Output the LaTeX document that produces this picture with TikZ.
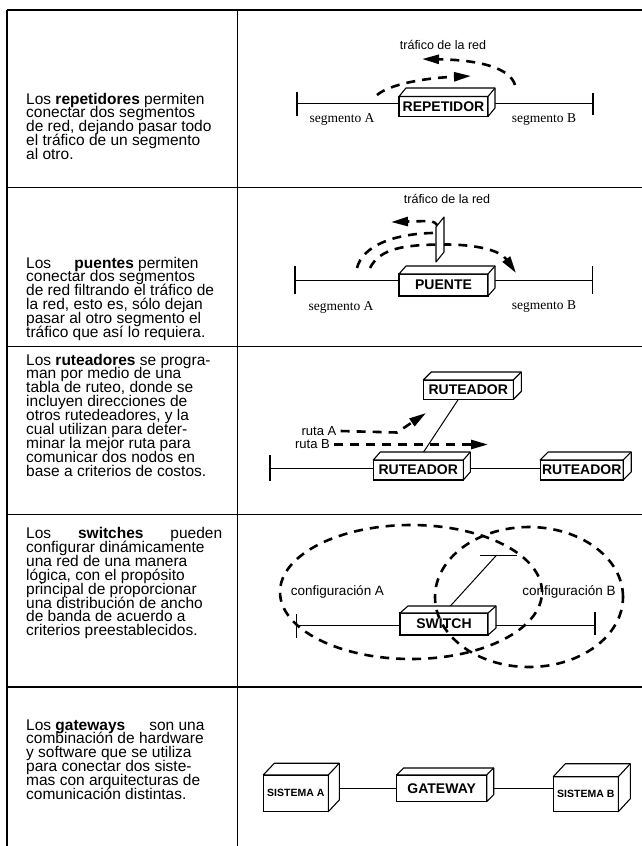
\documentclass[tikz,border=0pt]{standalone}
\usepackage{fontspec}
\setmainfont{Liberation Sans}
\newfontfamily\seriffont{Liberation Serif}
\usetikzlibrary{arrows.meta}
\pgfdeclarelayer{back}
\pgfsetlayers{back,main}

\tikzset{
  rule/.style={line width=1.3pt},
  para/.style={inner sep=0pt, anchor=base west},
  boxfront/.style={draw, fill=white, line width=1.1pt, inner sep=0pt, outer sep=0pt,
    font=\fontsize{14}{15}\selectfont\bfseries},
  boxface/.style={draw, fill=white, line width=1.1pt, line join=round},
  boxedge/.style={line width=1.1pt},
  wire/.style={line width=1pt},
  tick/.style={line width=1.3pt},
  traffic/.style={line width=2.6pt, dash pattern=on 9pt off 7pt},
  head/.style={-{Triangle[length=17pt,width=9pt]}},
  caption/.style={inner sep=0pt, font=\fontsize{12.5}{14}\selectfont},
  seglabel/.style={inner sep=0pt, font=\seriffont\fontsize{13.5}{15}\selectfont},
}

% description text of one row
\newcommand\paratext[1]{\parbox[t]{205pt}{\fontsize{15.5}{13.9}\selectfont
  \lineskiplimit=-20pt\raggedright #1}}

% 3D network device: name, centre, width, height, depth dx, depth dy, label
\newcommand\netbox[7]{%
  \node[boxfront, minimum width=#3pt, minimum height=#4pt] (#1) at (#2) {#7};
  \filldraw[boxface] (#1.north west) -- ++(#5,-#6) -- ++(#3,0) -- ++(0,#4)
    -- (#1.south east) -- (#1.north east) -- cycle;
  \draw[boxedge] (#1.north east) -- ++(#5,-#6);
}

\begin{document}
\begin{tikzpicture}[x=1pt,y=-1pt]
\useasboundingbox (0,0) rectangle (642,846);

% ---- table frame ----
\foreach \y in {10,187.5,346.5,514.5,687}
  \draw[rule] (7,\y) -- (642,\y);
\draw[rule] (7,10) -- (7,846);
\draw[rule] (237.5,10) -- (237.5,846);

% ---- row 1: repetidores ----
\node[para] (p1) at (26,104) {\paratext{Los \textbf{repetidores} permiten\\
  conectar dos segmentos\\de red, dejando pasar todo\\el tráfico de un segmento\\al otro.}};
\netbox{rep}{443.5,106.5}{89}{20}{7}{8.5}{REPETIDOR}
\coordinate (r1a) at (297,103.5);
\coordinate (r1b) at (593,103.5);
\begin{pgfonlayer}{back}
  \draw[wire] (r1a) -- (r1a -| rep.west);
  \draw[wire] (r1b -| rep.east) -- (r1b);
\end{pgfonlayer}
\draw[tick] ([yshift=12pt]r1a) -- ([yshift=-12pt]r1a);
\draw[tick] ([yshift=11pt]r1b) -- ([yshift=-11pt]r1b);
\node[caption] (traf1) at (443,45) {tráfico de la red};
\node[seglabel] (sa1) at (342,119.5) {segmento A};
\node[seglabel] (sb1) at (544,119.5) {segmento B};
\coordinate (t1s) at (377,95);   \coordinate (t1e) at (471,76);
\coordinate (t2s) at (515,85);   \coordinate (t2e) at (422,59);
\draw[traffic, head] (t1s) .. controls (390,84) and (425,78) .. (t1e);
\draw[traffic, head] (t2s) .. controls (510,68) and (480,60) .. (t2e);

% ---- row 2: puentes ----
\node[para] (p2) at (26,268) {\paratext{Los\hspace{19pt} \textbf{puentes} permiten\\
  conectar dos segmentos\\de red filtrando el tráfico de\\la red, esto es, sólo dejan\\
  pasar al otro segmento el\\tráfico que así lo requiera.}};
\netbox{pte}{443.5,285}{89}{22}{7}{8}{PUENTE}
\coordinate (r2a) at (295,280);
\coordinate (r2b) at (592.7,280);
\begin{pgfonlayer}{back}
  \draw[wire] (r2a) -- (r2a -| pte.west);
  \draw[wire] (r2b -| pte.east) -- (r2b);
\end{pgfonlayer}
\draw[tick] ([yshift=14pt]r2a) -- ([yshift=-14pt]r2a);
\draw[tick] ([yshift=14pt]r2b) -- ([yshift=-14pt]r2b);
\node[caption] (traf2) at (447,198.5) {tráfico de la red};
\node[seglabel] (sa2) at (341,307) {segmento A};
\node[seglabel] (sb2) at (544,307) {segmento B};
\coordinate (f1s) at (357,268);  \coordinate (f1e) at (391,222);
\coordinate (f2s) at (370,268);  \coordinate (f2e) at (516,273);
\draw[traffic, head] (f1s) .. controls (363,245) and (395,234) .. (432,233)
  .. controls (440,232) and (440,221) .. (428,221) -- (f1e);
\draw[traffic, head] (f2s) .. controls (380,248) and (405,245) .. (440,244.5)
  .. controls (475,244) and (500,250) .. (f2e);
% filter plate of the bridge
\filldraw[boxface] (436,262) -- (436,227) -- (444,217) -- (444,252) -- cycle;

% ---- row 3: ruteadores ----
\node[para] (p3) at (26,365) {\paratext{Los \textbf{ruteadores} se progra-\\
  man por medio de una\\tabla de ruteo, donde se\\incluyen direcciones de\\
  otros rutedeadores, y la\\cual utilizan para deter-\\minar la mejor ruta para\\
  comunicar dos nodos en\\base a criterios de costos.}};
\netbox{ru1}{468.3,389.7}{90}{19.5}{8}{8}{RUTEADOR}
\netbox{ru2}{418.3,470}{90}{20}{7}{8}{RUTEADOR}
\netbox{ru3}{581.7,470}{83}{20}{8}{8}{RUTEADOR}
\coordinate (r3a) at (270,468.3);
\begin{pgfonlayer}{back}
  \draw[wire] (r3a) -- (r3a -| ru2.west);
  \draw[wire] (r3a -| ru2.east) -- (r3a -| ru3.west);
  \draw[wire] (ru2.north) -- ([xshift=-10pt]ru1.south);
\end{pgfonlayer}
\draw[tick] ([yshift=13pt]r3a) -- ([yshift=-13pt]r3a);
\node[caption, font=\fontsize{13}{14}\selectfont] (rA) at (319,431) {ruta A};
\node[caption, font=\fontsize{13}{14}\selectfont] (rB) at (312.5,444.5) {ruta B};
\coordinate (rAk) at (397,432.5);
\coordinate (rAe) at (426,413);
\coordinate (rBe) at (488,444.5);
\draw[traffic, head] ([xshift=4pt]rA.east) -- (rAk) -- (rAe);
\draw[traffic, head] ([xshift=4pt]rB.east) -- (rBe);

% ---- row 4: switches ----
\node[para] (p4) at (26,538.5) {\paratext{\makebox[196pt][s]{Los \textbf{switches} pueden}\\
  configurar dinámicamente\\una red de una manera\\lógica, con el propósito\\
  principal de proporcionar\\una distribución de ancho\\de banda de acuerdo a\\
  criterios preestablecidos.}};
\netbox{sw}{444,624}{88}{22}{8}{7}{SWITCH}
\coordinate (r4a) at (296.7,625);
\coordinate (r4b) at (595,625);
\coordinate (r4c) at (496.7,555);
\coordinate (r4l) at (480,555);
\coordinate (r4r) at (516.7,555);
\begin{pgfonlayer}{back}
  \draw[wire] (r4a) -- (r4a -| sw.west);
  \draw[wire] (r4b -| sw.east) -- (r4b);
  \draw[wire] (sw.north) -- (r4c);
\end{pgfonlayer}
\draw[wire] (r4l) -- (r4r);
\draw[tick] ([yshift=11pt]r4a) -- ([yshift=-13pt]r4a);
\draw[tick] ([yshift=13pt]r4b) -- ([yshift=-10pt]r4b);
\node[caption, font=\fontsize{13.5}{15}\selectfont] (cA) at (337.5,592) {configuración A};
\node[caption, font=\fontsize{13.5}{15}\selectfont] (cB) at (569,592) {configuración B};
\draw[traffic] (411,592) ellipse [x radius=131pt, y radius=67pt];
\draw[traffic] (529,597) ellipse [x radius=94pt, y radius=70pt];

% ---- row 5: gateways ----
\node[para] (p5) at (26,730) {\paratext{Los \textbf{gateways}\hspace{24pt}son una\\
  combinación de hardware\\y software que se utiliza\\para conectar dos siste-\\
  mas con arquitecturas de\\comunicación distintas.}};
\netbox{sa}{295.8,793.3}{65}{36.7}{11}{11.7}{\fontsize{10.5}{12}\selectfont SISTEMA A}
\netbox{gw}{441.7,788.3}{90}{26.7}{7}{7}{GATEWAY}
\netbox{sb}{585.8,794.2}{65}{35}{12}{13}{\fontsize{10.5}{12}\selectfont SISTEMA B}
\begin{pgfonlayer}{back}
  \draw[wire] (gw.west) -- (gw.west -| sa.east);
  \draw[wire] (gw.east) -- (gw.east -| sb.west);
\end{pgfonlayer}
\end{tikzpicture}
\end{document}
